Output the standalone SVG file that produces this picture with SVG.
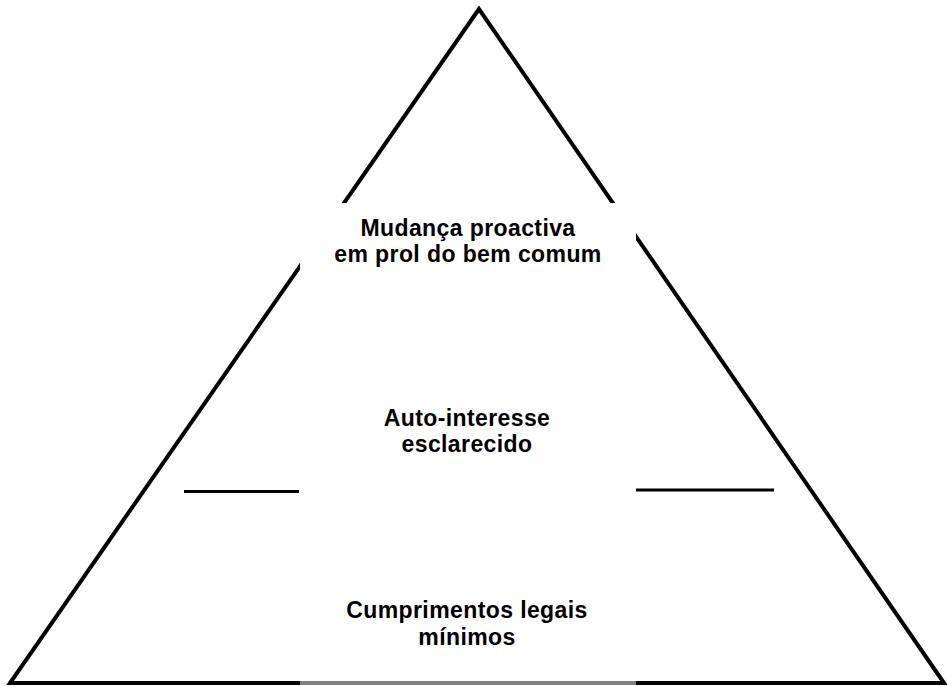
<svg xmlns="http://www.w3.org/2000/svg" width="947" height="686" viewBox="0 0 947 686">
  <style>
    .edge { stroke: #000; stroke-width: 4; fill: none; }
    .rule { stroke: #000; stroke-width: 3; }
    .lbl { font-family: "Liberation Sans", Arial, sans-serif; font-weight: bold; font-size: 23px; letter-spacing: 0.4px; text-anchor: middle; fill: #000; }
  </style>
  <rect x="0" y="0" width="947" height="686" fill="#fff"/>
  <g id="pyramid">
    <polygon class="edge" points="479,9 10,683 944,683" stroke-linejoin="miter"/>
    <rect x="300" y="203" width="336" height="478" fill="#fff"/>
    <line x1="300" y1="683" x2="636" y2="683" stroke="#808080" stroke-width="4"/>
  </g>
  <g id="connectors">
    <line class="rule" x1="184" y1="491.5" x2="299" y2="491.5"/>
    <line class="rule" x1="636" y1="490" x2="774" y2="490"/>
  </g>
  <g id="level-top">
    <text class="lbl" x="468" y="236">Mudança proactiva</text>
    <text class="lbl" x="468" y="262">em prol do bem comum</text>
  </g>
  <g id="level-middle">
    <text class="lbl" x="467" y="426">Auto-interesse</text>
    <text class="lbl" x="467" y="452">esclarecido</text>
  </g>
  <g id="level-bottom">
    <text class="lbl" x="467" y="618">Cumprimentos legais</text>
    <text class="lbl" x="467" y="645">mínimos</text>
  </g>
</svg>
